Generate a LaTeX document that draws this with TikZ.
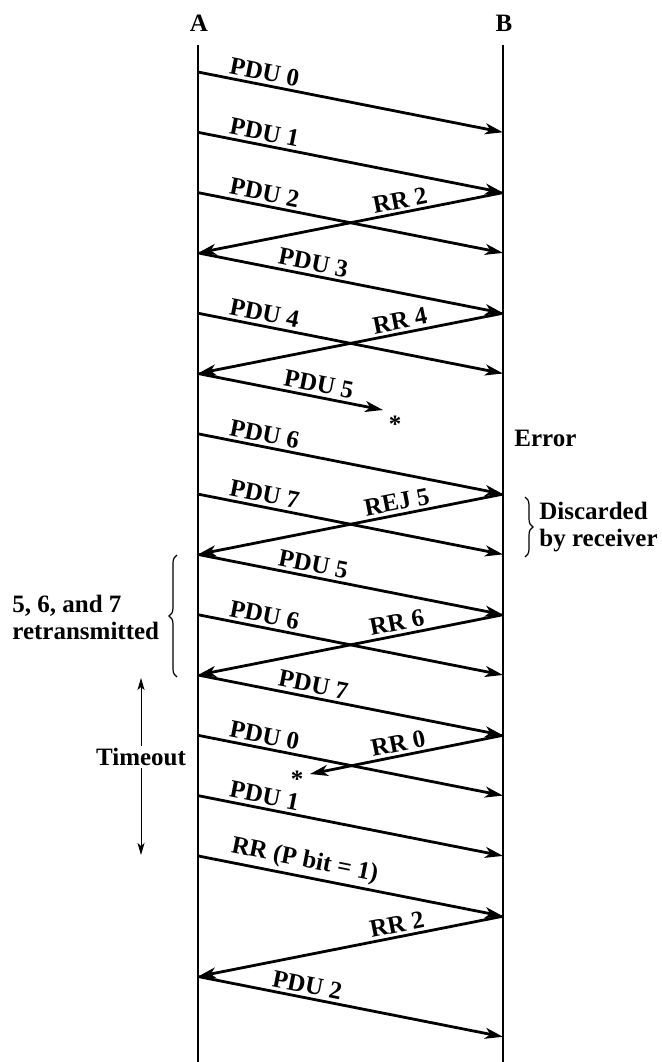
\documentclass[tikz,border=0pt]{standalone}
\usepackage{fontspec}
\setmainfont{Liberation Serif}
\usetikzlibrary{arrows.meta,decorations.pathreplacing}
\begin{document}
\begin{tikzpicture}[x=0.5pt,y=-0.5pt,
  font=\fontsize{12.5}{13.5}\selectfont\bfseries,
  life/.style={line width=1.1pt},
  msg/.style={line width=1.4pt,-{Stealth[length=9pt,width=5.5pt,inset=2.5pt]}},
  lab/.style={sloped,above,inner sep=1.5pt},
  thinarrow/.style={line width=0.5pt,-{Stealth[length=6pt,width=3.5pt,inset=1.5pt]}},
  bracestyle/.style={line width=0.6pt,decorate,decoration={brace,amplitude=4pt}},
  lbl/.style={inner sep=1pt}
]
\useasboundingbox (0,0) rectangle (662,1062);

% lifelines
\node[lbl] (labA) at (199,23) {A};
\node[lbl] (labB) at (504,23) {B};
\coordinate (Atop) at (198,45);
\coordinate (Abot) at (198,1062);
\coordinate (Btop) at (503,45);
\coordinate (Bbot) at (503,1062);
\draw[life] (Atop) -- (Abot);
\draw[life] (Btop) -- (Bbot);

% time slots
\foreach \k in {0,...,16}{
  \coordinate (A\k) at (198,{72+60.3*\k});
  \coordinate (B\k) at (503,{72+60.3*\k});
}

% messages
\draw[msg] (A0) -- node[lab,pos=0.21]{PDU 0} (B1);
\draw[msg] (A1) -- node[lab,pos=0.21]{PDU 1} (B2);
\draw[msg] (A2) -- node[lab,pos=0.21]{PDU 2} (B3);
\draw[msg] (B2) -- node[lab,pos=0.33]{RR 2} (A3);
\draw[msg] (A3) -- node[lab,pos=0.37]{PDU 3} (B4);
\draw[msg] (A4) -- node[lab,pos=0.21]{PDU 4} (B5);
\draw[msg] (B4) -- node[lab,pos=0.33]{RR 4} (A5);

\coordinate (lost5) at (383,410);
\draw[msg] (A5) -- node[lab,pos=0.64]{PDU 5} (lost5);
\node[lbl] (star1) at (395,424) {*};

\node[lbl,anchor=west] (err) at (512,438) {Error};

\draw[msg] (A6) -- node[lab,pos=0.21]{PDU 6} (B7);
\draw[msg] (A7) -- node[lab,pos=0.21]{PDU 7} (B8);
\draw[msg] (B7) -- node[lab,pos=0.34]{REJ 5} (A8);
\draw[msg] (A8) -- node[lab,pos=0.37]{PDU 5} (B9);
\draw[msg] (A9) -- node[lab,pos=0.21]{PDU 6} (B10);
\draw[msg] (B9) -- node[lab,pos=0.34]{RR 6} (A10);
\draw[msg] (A10) -- node[lab,pos=0.37]{PDU 7} (B11);
\draw[msg] (A11) -- node[lab,pos=0.21]{PDU 0} (B12);

\coordinate (lost0) at (310,774);
\draw[msg] (B11) -- node[lab,pos=0.53]{RR 0} (lost0);
\node[lbl] (star2) at (297,779) {*};

\draw[msg] (A12) -- node[lab,pos=0.21]{PDU 1} (B13);
\draw[msg] (A13) -- node[lab,pos=0.34]{RR (P bit = 1)} (B14);
\draw[msg] (B14) -- node[lab,pos=0.34]{RR 2} (A15);
\draw[msg] (A15) -- node[lab,pos=0.35]{PDU 2} (B16);

% right brace: discarded
\coordinate (dtop) at (525,497);
\coordinate (dbot) at (525,557);
\draw[bracestyle] (dtop) -- (dbot);
\node[lbl,anchor=west,align=left] (disc) at (537,527) {Discarded\\by receiver};

% left brace: retransmitted
\coordinate (rtop) at (177,555);
\coordinate (rbot) at (177,677);
\draw[bracestyle] (rbot) -- (rtop);
\node[lbl,anchor=west,align=left] (retx) at (10,617) {5, 6, and 7\\retransmitted};

% timeout
\node[lbl] (tmo) at (141,757) {Timeout};
\coordinate (ttop) at (141,678);
\coordinate (tbot) at (141,855);
\draw[thinarrow] (tmo.north) -- (ttop);
\draw[thinarrow] (tmo.south) -- (tbot);
\end{tikzpicture}
\end{document}
